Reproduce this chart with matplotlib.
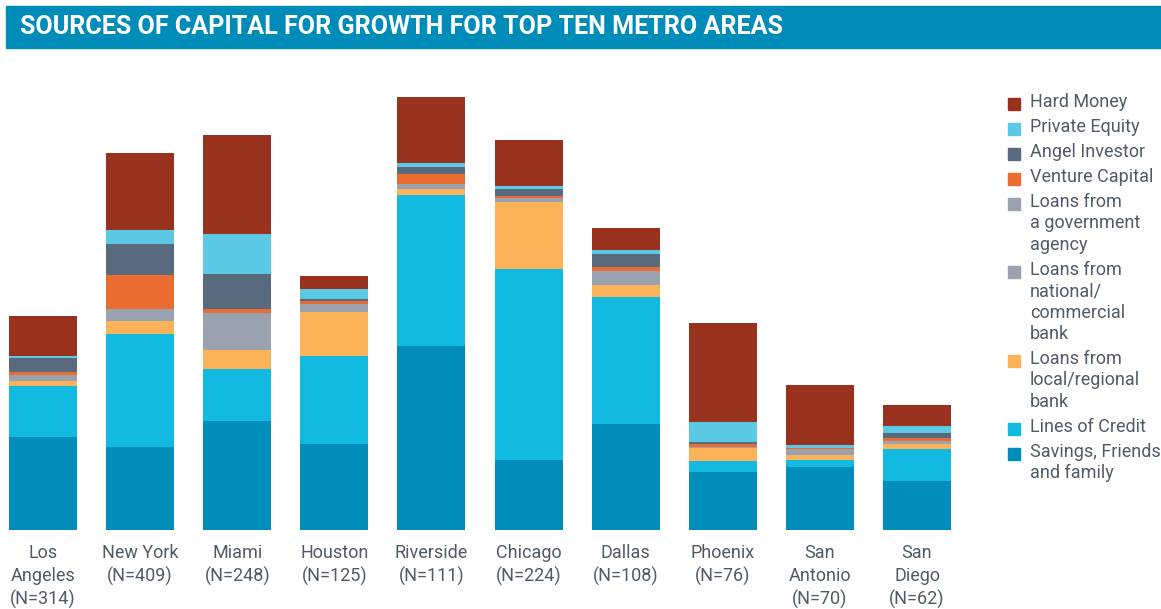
import matplotlib.pyplot as plt
from matplotlib.patches import Rectangle

# metro areas and sample sizes
metros = ["Los\nAngeles", "New York", "Miami", "Houston", "Riverside",
          "Chicago", "Dallas", "Phoenix", "San\nAntonio", "San\nDiego"]
sample_n = [314, 409, 248, 125, 111, 224, 108, 76, 70, 62]

# segment sizes (bottom to top)
savings = [93, 83, 109, 86, 184, 70, 106, 58, 63, 49]
lines_credit = [51, 113, 52, 88, 151, 191, 127, 11, 7, 32]
local_bank = [5, 13, 19, 44, 6, 67, 12, 13, 5, 5]
national_bank = [4, 7, 22, 5, 3, 2, 8, 1, 4, 2]
gov_agency = [2, 5, 15, 3, 2, 2, 6, 0, 2, 1]
venture = [3, 34, 4, 3, 10, 2, 4, 3, 1, 3]
angel = [14, 31, 35, 2, 7, 7, 13, 2, 0, 5]
private_eq = [2, 14, 40, 10, 4, 3, 4, 20, 3, 7]
hard_money = [40, 77, 99, 13, 66, 46, 22, 99, 60, 21]

series = [
    ("Savings, Friends\nand family", savings, "#008dba"),
    ("Lines of Credit", lines_credit, "#12b9e0"),
    ("Loans from\nlocal/regional\nbank", local_bank, "#fbb258"),
    ("Loans from\nnational/\ncommercial\nbank", national_bank, "#9aa2b0"),
    ("Loans from\na government\nagency", gov_agency, "#9aa2b0"),
    ("Venture Capital", venture, "#ea6c30"),
    ("Angel Investor", angel, "#5a6a7e"),
    ("Private Equity", private_eq, "#5bc8e4"),
    ("Hard Money", hard_money, "#98321f"),
]

plt.rcParams['font.family'] = ['Roboto', 'DejaVu Sans']
text_color = "#505b67"

fig = plt.figure(figsize=(11.61, 6.09), dpi=100)

# title banner
fig.patches.append(Rectangle((6 / 1161, 1 - 48 / 609), 1 - 6 / 1161, 42 / 609,
                             transform=fig.transFigure, color="#008cb9", zorder=0))
fig.text(20 / 1161, 1 - 27 / 609, "SOURCES OF CAPITAL FOR GROWTH FOR TOP TEN METRO AREAS",
         color="white", fontsize=18.1, fontweight="bold", va="center", ha="left")

ax = fig.add_axes([9 / 1161, 79 / 609, 942 / 1161, 433 / 609])
x = list(range(len(metros)))
bottom = [0] * len(metros)
for name, vals, col in series:
    ax.bar(x, vals, bottom=bottom, width=0.7, color=col, linewidth=0)
    bottom = [b + v for b, v in zip(bottom, vals)]

ax.set_xlim(-0.35, len(metros) - 0.65)
ax.set_ylim(0, 433)
ax.set_yticks([])
ax.set_xticks(x)
ax.set_xticklabels([f"{m}\n(N={n})" for m, n in zip(metros, sample_n)],
                   color=text_color, fontsize=13, linespacing=1.36)
ax.tick_params(axis="x", length=0, pad=10)
for s in ax.spines.values():
    s.set_visible(False)

# legend, top entry first
ly = 104
for name, vals, col in reversed(series):
    fig.patches.append(Rectangle((1008 / 1161, 1 - (ly + 6) / 609), 12 / 1161, 12 / 609,
                                 transform=fig.transFigure, color=col))
    fig.text(1030 / 1161, 1 - (ly - 11) / 609, name, color=text_color, fontsize=13,
             va="top", ha="left", linespacing=1.24)
    ly += 25.0 + 21.4 * name.count("\n")

fig.savefig("out.png", dpi=100)
